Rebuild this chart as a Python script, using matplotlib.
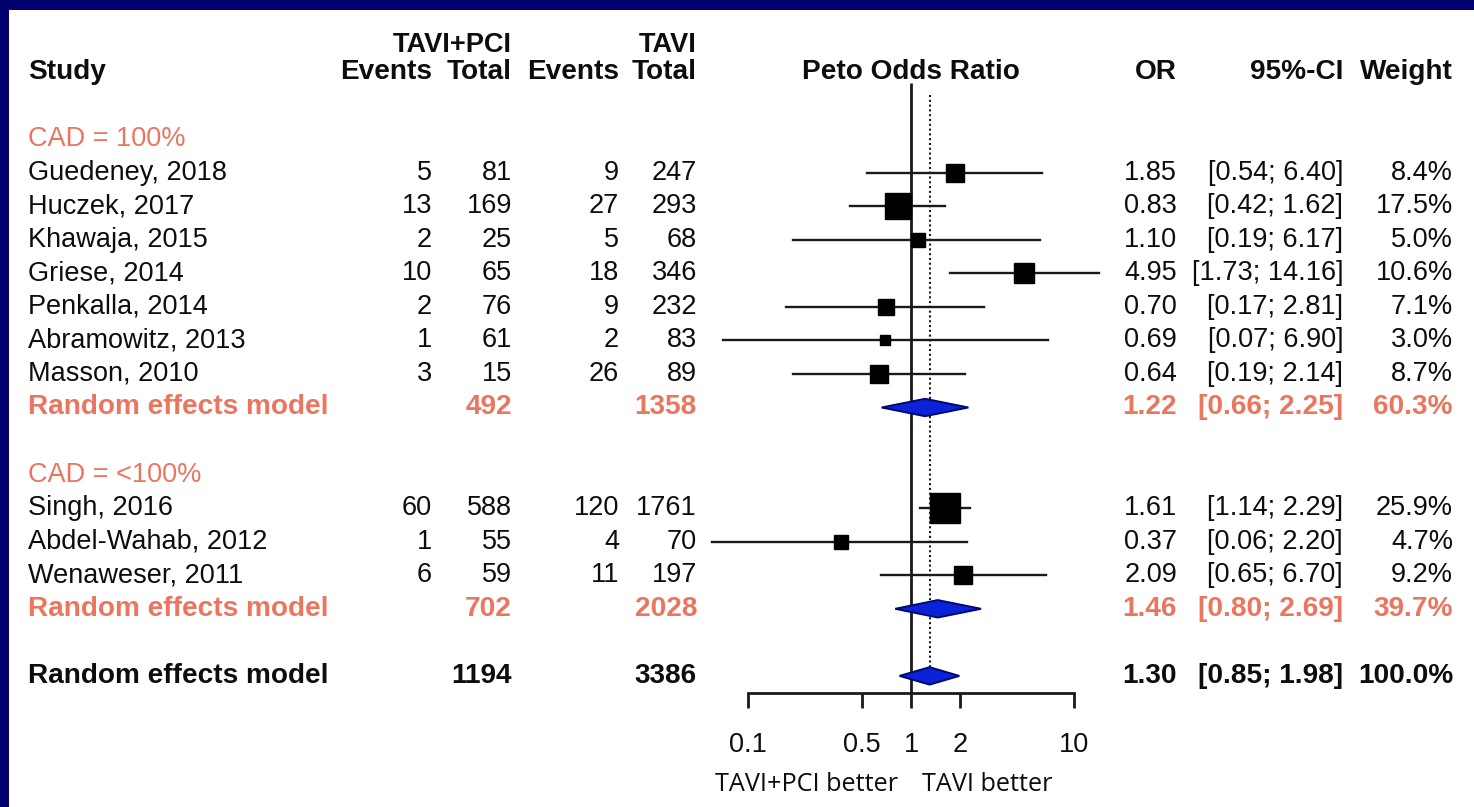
import matplotlib
matplotlib.use("Agg")
import matplotlib.pyplot as plt
import matplotlib.transforms as mtransforms
from matplotlib.patches import Rectangle
import numpy as np

plt.rcParams["font.family"] = ["Liberation Sans", "DejaVu Sans"]

# --- data ---
group_labels = ["CAD = 100%", "CAD = <100%"]
studies = [
    ["Guedeney, 2018", "Huczek, 2017", "Khawaja, 2015", "Griese, 2014",
     "Penkalla, 2014", "Abramowitz, 2013", "Masson, 2010"],
    ["Singh, 2016", "Abdel-Wahab, 2012", "Wenaweser, 2011"],
]
events_pci = [[5, 13, 2, 10, 2, 1, 3], [60, 1, 6]]
total_pci = [[81, 169, 25, 65, 76, 61, 15], [588, 55, 59]]
events_tavi = [[9, 27, 5, 18, 9, 2, 26], [120, 4, 11]]
total_tavi = [[247, 293, 68, 346, 232, 83, 89], [1761, 70, 197]]
odds = [[1.85, 0.83, 1.10, 4.95, 0.70, 0.69, 0.64], [1.61, 0.37, 2.09]]
ci_low = [[0.54, 0.42, 0.19, 1.73, 0.17, 0.07, 0.19], [1.14, 0.06, 0.65]]
ci_high = [[6.40, 1.62, 6.17, 14.16, 2.81, 6.90, 2.14], [2.29, 2.20, 6.70]]
weights = [[8.4, 17.5, 5.0, 10.6, 7.1, 3.0, 8.7], [25.9, 4.7, 9.2]]

# subgroup random effects models
sub_total_pci = [492, 702]
sub_total_tavi = [1358, 2028]
sub_or = [1.22, 1.46]
sub_lo = [0.66, 0.80]
sub_hi = [2.25, 2.69]
sub_w = [60.3, 39.7]

overall = dict(total_pci=1194, total_tavi=3386, est=1.30, lo=0.85, hi=1.98, w=100.0)

x_ticks = [0.1, 0.5, 1, 2, 10]
x_ticklabels = ["0.1", "0.5", "1", "2", "10"]

# --- layout (pixels of a 1474x807 canvas) ---
W, H = 1474, 807
ROW0, ROWH = 72, 33.55
SALMON = "#ea7660"
INK = "#0d0d0d"
NAVY = "#00006e"
BLUE = "#0a22d8"
FS = 19.5
FSB = 20.2

col_study = 28
col_ev1, col_tot1, col_ev2, col_tot2 = 432, 512, 619, 697
col_or, col_ci, col_w = 1177, 1343, 1453

fig = plt.figure(figsize=(W / 100, H / 100), dpi=100)
fig.patch.set_facecolor("white")
ax = fig.add_axes([748 / W, 0, (1074 - 748) / W, 1])
ax.set_xscale("log")
ax.set_xlim(0.1, 10)
ax.set_ylim((H - ROW0) / ROWH, -ROW0 / ROWH)
ax.patch.set_alpha(0)

tr = mtransforms.blended_transform_factory(fig.transFigure, ax.transData)


def put(px, row, s, ha="right", color=INK, weight="normal", size=None, **kw):
    if size is None:
        size = FSB if weight == "bold" else FS
    ax.text(px / W, row, s, transform=tr, ha=ha, va="center", color=color,
            fontweight=weight, fontsize=size, **kw)


def right_cols(row, est, lo, hi, w, color=INK, weight="normal"):
    put(col_or, row, f"{est:.2f}", color=color, weight=weight)
    put(col_ci, row, f"[{lo:.2f}; {hi:.2f}]", color=color, weight=weight)
    put(col_w, row, f"{w:.1f}%", color=color, weight=weight)


def diamond(row, est, lo, hi):
    h = 0.26
    ax.fill([lo, est, hi, est], [row, row - h, row, row + h], facecolor=BLUE,
            edgecolor="#000a70", lw=1.4, clip_on=False, zorder=4)


# header
put(col_study, 0, "Study", ha="left", weight="bold")
put(col_tot1, -0.8, "TAVI+PCI", weight="bold", size=19.5)
put(col_tot2, -0.8, "TAVI", weight="bold", size=19.5)
for px, s in [(col_ev1, "Events"), (col_tot1, "Total"), (col_ev2, "Events"), (col_tot2, "Total")]:
    put(px, 0, s, weight="bold")
ax.text(1, 0, "Peto Odds Ratio", ha="center", va="center", fontweight="bold",
        fontsize=FSB, color=INK)
put(col_or, 0, "OR", weight="bold")
put(col_ci, 0, "95%-CI", weight="bold")
put(col_w, 0, "Weight", weight="bold")

row = 2
for g, label in enumerate(group_labels):
    put(col_study, row, label, ha="left", color=SALMON)
    row += 1
    for i, name in enumerate(studies[g]):
        put(col_study, row, name, ha="left")
        put(col_ev1, row, str(events_pci[g][i]))
        put(col_tot1, row, str(total_pci[g][i]))
        put(col_ev2, row, str(events_tavi[g][i]))
        put(col_tot2, row, str(total_tavi[g][i]))
        right_cols(row, odds[g][i], ci_low[g][i], ci_high[g][i], weights[g][i])
        ax.plot([ci_low[g][i], ci_high[g][i]], [row, row], color="#1a1a1a",
                lw=1.7, clip_on=False, zorder=3)
        side_px = 6.0 * np.sqrt(weights[g][i])
        ax.plot(odds[g][i], row, "s", color="black", markersize=side_px * 0.72,
                clip_on=False, zorder=5)
        row += 1
    put(col_study, row, "Random effects model", ha="left", color=SALMON, weight="bold")
    put(col_tot1, row, str(sub_total_pci[g]), color=SALMON, weight="bold")
    put(col_tot2, row, str(sub_total_tavi[g]), color=SALMON, weight="bold")
    right_cols(row, sub_or[g], sub_lo[g], sub_hi[g], sub_w[g], color=SALMON, weight="bold")
    diamond(row, sub_or[g], sub_lo[g], sub_hi[g])
    row += 2

put(col_study, row, "Random effects model", ha="left", weight="bold")
put(col_tot1, row, str(overall["total_pci"]), weight="bold")
put(col_tot2, row, str(overall["total_tavi"]), weight="bold")
right_cols(row, overall["est"], overall["lo"], overall["hi"], overall["w"], weight="bold")
diamond(row, overall["est"], overall["lo"], overall["hi"])

axis_row = row + 0.51
ax.vlines(1, 0.33, axis_row, color="#1a1a1a", lw=2.0, zorder=2)
ax.vlines(overall["est"], 0.7, row, color="#1a1a1a", lw=1.5,
          linestyles=(0, (1.0, 1.3)), zorder=2)

# x axis drawn by the axes' own bottom spine, moved into the data area
for side in ["top", "left", "right"]:
    ax.spines[side].set_visible(False)
ax.spines["bottom"].set_position(("data", axis_row))
ax.spines["bottom"].set_linewidth(2.0)
ax.spines["bottom"].set_color("#1a1a1a")
ax.set_yticks([])
ax.set_xticks(x_ticks)
ax.set_xticklabels(x_ticklabels)
ax.xaxis.set_minor_locator(matplotlib.ticker.NullLocator())
ax.tick_params(axis="x", direction="out", length=11, width=2.0, color="#1a1a1a",
               pad=17, labelsize=FS, labelcolor=INK)

lab_row = axis_row + 2.73
put(898, lab_row, "TAVI+PCI better", ha="right", size=18.2,
    family=["Open Sans", "DejaVu Sans"])
put(922, lab_row, "TAVI better", ha="left", size=18.2,
    family=["Open Sans", "DejaVu Sans"])

# navy slide frame on left and top
fig.patches.append(Rectangle((0, 0), 9 / W, 1, transform=fig.transFigure,
                             facecolor=NAVY, edgecolor="none", zorder=10))
fig.patches.append(Rectangle((0, 1 - 10 / H), 1, 10 / H, transform=fig.transFigure,
                             facecolor=NAVY, edgecolor="none", zorder=10))

fig.savefig("out.png", dpi=100, facecolor="white")
